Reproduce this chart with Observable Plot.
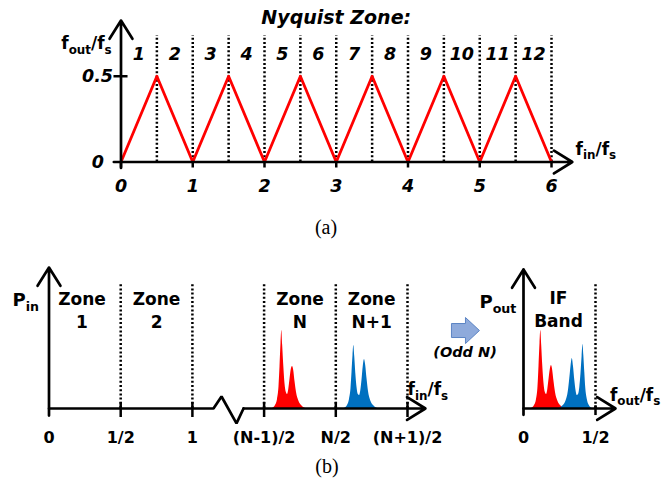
<!DOCTYPE html>
<html><head><meta charset="utf-8">
<script src="https://cdn.jsdelivr.net/npm/d3@7"></script>
<script src="https://cdn.jsdelivr.net/npm/@observablehq/plot@0.6"></script>
<style>
html,body{margin:0;padding:0;background:#fff;}
#wrap{position:relative;width:669px;height:479px;overflow:hidden;background:#fff;}
#wrap svg{position:absolute;overflow:visible;background:transparent;}
.cap{position:absolute;font-family:"Liberation Serif","DejaVu Serif",serif;font-size:20px;color:#000;transform:translate(-50%,-50%);white-space:nowrap;}
</style></head><body><div id="wrap"></div>
<script>
// ---------- (a) Nyquist folding ----------
const foldX = [0,0.5,1,1.5,2,2.5,3,3.5,4,4.5,5,5.5,6];
const foldY = [0,0.5,0,0.5,0,0.5,0,0.5,0,0.5,0,0.5,0];
const zoneEdgesA = [0.5,1,1.5,2,2.5,3,3.5,4,4.5,5,5.5,6];
const zoneNumbersA = [1,2,3,4,5,6,7,8,9,10,11,12];
const zoneCentersA = [0.25,0.75,1.25,1.75,2.25,2.75,3.25,3.75,4.25,4.75,5.25,5.75];
const xTicksA = [0,1,2,3,4,5,6];

// ---------- (b) left: input spectrum ----------
const tickPosB = [0,1,2,3,4,5];
const tickLabelsB = ["0","1/2","1","(N-1)/2","N/2","(N+1)/2"];
const zoneEdgesB = [1,2,3,4,5];
const zoneLabelsB = ["Zone\n1","Zone\n2","Zone\nN","Zone\nN+1"];
const zoneLabelPosB = [0.46,1.5,3.5,4.5];
const breakK = [0,2.294,2.406,2.615,2.713];
const breakP = [0,0,0.085,-0.106,0];
const redK = [3.117,3.159,3.187,3.208,3.222,3.236,3.247,3.259,3.275,3.291,3.310,3.326,3.344,3.361,3.379,3.396,3.413,3.431,3.452,3.487,3.529,3.578];
const redP = [0,0.021,0.064,0.156,0.298,0.461,0.553,0.447,0.298,0.177,0.113,0.099,0.135,0.206,0.277,0.298,0.270,0.191,0.113,0.050,0.018,0];
const blueK = [4.121,4.163,4.191,4.212,4.226,4.240,4.251,4.264,4.279,4.296,4.314,4.331,4.349,4.365,4.383,4.400,4.417,4.435,4.456,4.491,4.533,4.582];
const blueP = [0,0.021,0.064,0.142,0.255,0.376,0.447,0.369,0.248,0.149,0.099,0.092,0.128,0.199,0.298,0.348,0.305,0.213,0.121,0.050,0.018,0];

// ---------- (b) right: IF band ----------
const tickPosIF = [0,0.5];
const tickLabelsIF = ["0","1/2"];
const ifRedF = [0.0556,0.0764,0.0903,0.1007,0.1076,0.1146,0.1201,0.1264,0.1340,0.1424,0.1514,0.1597,0.1688,0.1771,0.1861,0.1944,0.2028,0.2118,0.2222,0.2396,0.2604,0.2847];
const ifRedP = [0,0.021,0.064,0.156,0.298,0.461,0.553,0.447,0.298,0.177,0.113,0.099,0.135,0.206,0.277,0.305,0.270,0.191,0.113,0.050,0.018,0];
const ifBlueF = [0.2486,0.2729,0.2938,0.3111,0.3215,0.3306,0.3389,0.3472,0.3563,0.3646,0.3736,0.3819,0.3910,0.3993,0.4069,0.4132,0.4188,0.4257,0.4326,0.4431,0.4569,0.4778];
const ifBlueP = [0,0.018,0.050,0.121,0.213,0.305,0.355,0.298,0.199,0.128,0.092,0.099,0.149,0.248,0.369,0.454,0.376,0.255,0.142,0.064,0.021,0];
const foldArrowF = [-0.403];
const foldArrowP = [0.553];

const FONT = '"DejaVu Sans", "Liberation Sans", sans-serif';
const RED = "#ff0000", BLUE = "#0070c0";
const dotted = {stroke:"#000", strokeWidth:2.5, strokeDasharray:"2,2.2"};
const axisStyle = {stroke:"#000", strokeWidth:2.7, headLength:12, headAngle:64};
const boldIt = {fontFamily:FONT, fontWeight:"bold", fontStyle:"italic", fill:"#000"};
const bold = {fontFamily:FONT, fontWeight:"bold", fill:"#000"};
const pts = (xs, ys) => xs.map((x,i) => ({x, y: ys[i]}));

const blockArrow = {draw(ctx, size){
  const s = Math.sqrt(size/Math.PI);
  ctx.moveTo(-s,-0.5*s); ctx.lineTo(0,-0.5*s); ctx.lineTo(0,-0.93*s);
  ctx.lineTo(s,0); ctx.lineTo(0,0.93*s); ctx.lineTo(0,0.5*s); ctx.lineTo(-s,0.5*s); ctx.closePath();
}};

const A = Plot.plot({
  width:669, height:200, marginLeft:120.5, marginRight:118, marginTop:20, marginBottom:38.5,
  x:{domain:[0,6], axis:null}, y:{domain:[0,0.825], axis:null},
  marks:[
    Plot.ruleX(zoneEdgesA, {y1:0, y2:0.738, ...dotted}),
    Plot.line(pts(foldX, foldY), {x:"x", y:"y", stroke:RED, strokeWidth:2.8}),
    Plot.ruleX(xTicksA, {y1:-0.035, y2:0, stroke:"#000", strokeWidth:2.5}),
    Plot.ruleY([0.5], {x1:-0.098, x2:0.098, stroke:"#000", strokeWidth:2.5}),
    Plot.arrow([0], {x1:-0.1, x2:6.29, y1:0, y2:0, ...axisStyle}),
    Plot.arrow([0], {x1:0, x2:0, y1:-0.035, y2:0.825, ...axisStyle}),
    Plot.text(xTicksA, {x:d=>d, y:0, dy:24, text:d=>String(d), fontSize:17.5, ...boldIt}),
    Plot.text(["0.5"], {x:0, y:0.5, dx:-8, text:d=>d, textAnchor:"end", fontSize:17.5, ...boldIt}),
    Plot.text(["0"], {x:0, y:0, dx:-17, text:d=>d, textAnchor:"end", fontSize:17.5, ...boldIt}),
    Plot.text(zoneNumbersA, {x:zoneCentersA, y:0.627, text:d=>String(d), fontSize:17.5, ...boldIt}),
    Plot.text(["Nyquist Zone:"], {x:3, y:0.84, text:d=>d, fontSize:19, ...boldIt}),
    Plot.text(["f_{out}/f_{s}"], {x:-0.13, y:0.69, text:d=>d, textAnchor:"end", fontSize:17, ...bold}),
    Plot.text(["f_{in}/f_{s}"], {x:6.335, y:0.075, text:d=>d, textAnchor:"start", fontSize:17, ...bold})
  ]
});

const B = Plot.plot({
  width:460, height:220, marginLeft:48.5, marginRight:53, marginTop:27, marginBottom:52,
  x:{domain:[0,5], axis:null}, y:{domain:[0,1], axis:null},
  marks:[
    Plot.ruleX(zoneEdgesB, {y1:0, y2:0.887, ...dotted}),
    Plot.areaY(pts(redK, redP), {x:"x", y:"y", fill:RED, curve:"monotone-x"}),
    Plot.areaY(pts(blueK, blueP), {x:"x", y:"y", fill:BLUE, curve:"monotone-x"}),
    Plot.line(pts(breakK, breakP), {x:"x", y:"y", stroke:"#000", strokeWidth:2.7, strokeLinejoin:"miter"}),
    Plot.arrow([0], {x1:2.713, x2:5.25, y1:0, y2:0, ...axisStyle}),
    Plot.arrow([0], {x1:0, x2:0, y1:-0.05, y2:1, ...axisStyle}),
    Plot.ruleX(tickPosB.slice(1), {y1:-0.064, y2:0.043, stroke:"#000", strokeWidth:2.5}),
    Plot.text(tickPosB, {x:d=>d, y:0, dy:29, text:(d,i)=>tickLabelsB[i], fontSize:16, ...bold}),
    Plot.text(zoneLabelsB, {x:zoneLabelPosB, y:0.706, text:d=>d, lineHeight:1.35, fontSize:17, ...bold}),
    Plot.text(["P_{in}"], {x:-0.14, y:0.766, text:d=>d, textAnchor:"end", fontSize:18, ...bold}),
    Plot.text(["f_{in}/f_{s}"], {x:5.0, y:0.135, text:d=>d, textAnchor:"start", fontSize:17, ...bold})
  ]
});

const C = Plot.plot({
  width:229, height:220, marginLeft:83, marginRight:74, marginTop:27, marginBottom:52,
  x:{domain:[0,0.5], axis:null}, y:{domain:[0,1], axis:null},
  marks:[
    Plot.ruleX([0.5], {y1:0, y2:0.887, ...dotted}),
    Plot.areaY(pts(ifRedF, ifRedP), {x:"x", y:"y", fill:RED, curve:"monotone-x"}),
    Plot.areaY(pts(ifBlueF, ifBlueP), {x:"x", y:"y", fill:BLUE, curve:"monotone-x"}),
    Plot.arrow([0], {x1:0, x2:0.639, y1:0, y2:0, ...axisStyle}),
    Plot.arrow([0], {x1:0, x2:0, y1:-0.045, y2:0.986, ...axisStyle}),
    Plot.ruleX([0.5], {y1:-0.05, y2:0.02, stroke:"#000", strokeWidth:2.5}),
    Plot.text(tickPosIF, {x:d=>d, y:0, dy:29, text:(d,i)=>tickLabelsIF[i], fontSize:16, ...bold}),
    Plot.text(["IF\nBand"], {x:0.243, y:0.709, text:d=>d, lineHeight:1.35, fontSize:17, ...bold}),
    Plot.text(["P_{out}"], {x:-0.05, y:0.752, text:d=>d, textAnchor:"end", fontSize:18, ...bold}),
    Plot.text(["f_{out}/f_{s}"], {x:0.6, y:0.095, text:d=>d, textAnchor:"start", fontSize:17, ...bold}),
    Plot.dot(foldArrowF, {x:foldArrowF, y:foldArrowP, r:14, symbol:blockArrow, fill:"#8eaadb", stroke:"#5b84c4", strokeWidth:1}),
    Plot.text(["(Odd N)"], {x:-0.406, y:0.397, text:d=>d, fontSize:14.5, ...boldIt})
  ]
});

const wrap = document.getElementById("wrap");
[[A,0,0],[B,0,240],[C,440,240]].forEach(([svg,l,t]) => {
  svg.style.left = l+"px"; svg.style.top = t+"px";
  svg.style.background = "transparent"; svg.style.overflow = "visible";
  svg.style.maxWidth = "none";
  wrap.appendChild(svg);
});
[["(a)",326,227],["(b)",327,466]].forEach(([s,x,y]) => {
  const d = document.createElement("div"); d.className="cap"; d.textContent=s;
  d.style.left=x+"px"; d.style.top=y+"px"; wrap.appendChild(d);
});

// subscripts: turn "x_{sub}" into tspans
function subscripts(svg){
  d3.select(svg).selectAll("text").each(function(){
    const t = this.textContent;
    if (!t.includes("_{")) return;
    const fs = parseFloat(getComputedStyle(this).fontSize) || 16;
    const shift = fs*0.28;
    const parts = t.split(/(_\{[^}]*\})/).filter(p => p);
    this.textContent = "";
    let cur = 0;
    for (const p of parts){
      const m = p.match(/^_\{(.*)\}$/);
      const ts = d3.select(this).append("tspan");
      if (m){ ts.text(m[1]).attr("font-size", (fs*0.7)+"px").attr("dy", shift - cur); cur = shift; }
      else { ts.text(p).attr("dy", -cur); cur = 0; }
    }
  });
}
[A,B,C].forEach(subscripts);
</script></body></html>
